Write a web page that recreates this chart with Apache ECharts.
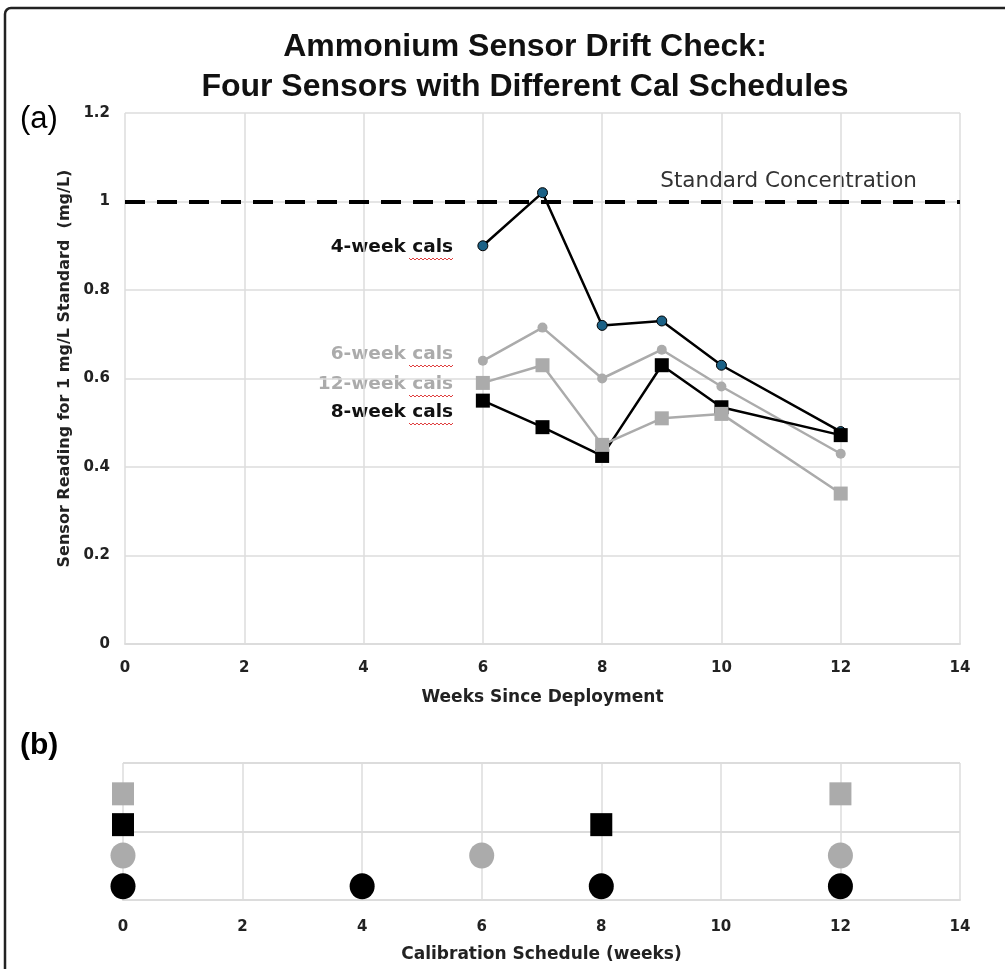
<!DOCTYPE html>
<html>
<head>
<meta charset="utf-8">
<script src="https://cdn.jsdelivr.net/npm/echarts@6/dist/echarts.min.js"></script>
<style>
html,body{margin:0;padding:0;background:#fff;}
#chart{width:1005px;height:969px;}
</style>
</head>
<body>
<div id="chart"></div>
<script>
// ---- Data ----
const weeks = [6, 7, 8, 9, 10, 12];
const fourWeek = [0.90, 1.02, 0.72, 0.73, 0.63, 0.48];
const sixWeek = [0.64, 0.715, 0.60, 0.665, 0.582, 0.43];
const eightWeek = [0.55, 0.49, 0.425, 0.63, 0.535, 0.472];
const twelveWeek = [0.59, 0.63, 0.45, 0.51, 0.52, 0.34];
const standardConc = 1.0;

const cal4 = [0, 4, 8, 12];
const cal6 = [0, 6, 12];
const cal8 = [0, 8];
const cal12 = [0, 12];
const rowLevels = { w4: 0.2, w6: 0.65, w8: 1.1, w12: 1.55 };

const xTicks = [0, 2, 4, 6, 8, 10, 12, 14];
const yTicks = [0, 0.2, 0.4, 0.6, 0.8, 1, 1.2];

const FONT = '"Liberation Sans", Arial, sans-serif';
const WFONT = '"DejaVu Sans", Verdana, sans-serif';
const GRID_C = '#dcdcdc';
const GRAY = '#ababab';
const BLUE = '#1b6186';

function pairs(xs, ys) { return xs.map((x, i) => [x, ys[i]]); }
function row(xs, level) { return xs.map(x => [x, level]); }

const chart = echarts.init(document.getElementById('chart'), null, { renderer: 'canvas' });

function squiggle(x0, x1, y) {
  const pts = [];
  let up = true;
  for (let x = x0; x <= x1; x += 2) { pts.push([x, up ? y : y + 2]); up = !up; }
  return { type: 'polyline', shape: { points: pts }, style: { stroke: '#e04040', lineWidth: 1, fill: null }, silent: true };
}

const option = {
  backgroundColor: '#fff',
  animation: false,
  title: {
    text: 'Ammonium Sensor Drift Check:\nFour Sensors with Different Cal Schedules',
    left: 520, top: 22, textAlign: 'center',
    textStyle: { fontFamily: FONT, fontWeight: 'bold', fontSize: 32, lineHeight: 40, color: '#111' }
  },
  grid: [
    { left: 125, right: 45, top: 113, height: 531 },
    { left: 123, right: 45, top: 763, height: 137 }
  ],
  xAxis: [
    {
      gridIndex: 0, type: 'value', min: 0, max: 14, interval: 2,
      name: 'Weeks Since Deployment', nameLocation: 'middle', nameGap: 45,
      nameTextStyle: { fontFamily: WFONT, fontWeight: 'bold', fontSize: 17, color: '#222' },
      axisLine: { show: true, lineStyle: { color: GRID_C, width: 2 } },
      axisTick: { show: false },
      axisLabel: { fontFamily: WFONT, fontWeight: 'bold', fontSize: 15, color: '#222', margin: 17 },
      splitLine: { show: true, lineStyle: { color: GRID_C, width: 1.5 } }
    },
    {
      gridIndex: 1, type: 'value', min: 0, max: 14, interval: 2,
      name: 'Calibration Schedule (weeks)', nameLocation: 'middle', nameGap: 46,
      nameTextStyle: { fontFamily: WFONT, fontWeight: 'bold', fontSize: 17, color: '#222' },
      axisLine: { show: true, lineStyle: { color: GRID_C, width: 2 } },
      axisTick: { show: false },
      axisLabel: { fontFamily: WFONT, fontWeight: 'bold', fontSize: 15, color: '#222', margin: 20 },
      splitLine: { show: true, lineStyle: { color: GRID_C, width: 1.5 } }
    }
  ],
  yAxis: [
    {
      gridIndex: 0, type: 'value', min: 0, max: 1.2, interval: 0.2,
      name: 'Sensor Reading for 1 mg/L Standard  (mg/L)', nameLocation: 'middle', nameGap: 52,
      nameTextStyle: { fontFamily: WFONT, fontWeight: 'bold', fontSize: 16, color: '#222', padding: [0, 0, 0, 20] },
      axisLine: { show: false }, axisTick: { show: false },
      axisLabel: { fontFamily: WFONT, fontWeight: 'bold', fontSize: 15, color: '#222', margin: 15,
        formatter: v => String(parseFloat(v.toFixed(1))) },
      splitLine: { show: true, lineStyle: { color: GRID_C, width: 1.5 } }
    },
    {
      gridIndex: 1, type: 'value', min: 0, max: 2, interval: 1,
      axisLine: { show: false }, axisTick: { show: false }, axisLabel: { show: false },
      splitLine: { show: true, lineStyle: { color: GRID_C, width: 2 } }
    }
  ],
  series: [
    {
      name: '4-week cals', type: 'line', xAxisIndex: 0, yAxisIndex: 0,
      data: pairs(weeks, fourWeek), symbol: 'circle', symbolSize: 10,
      lineStyle: { color: '#000', width: 2.5 },
      itemStyle: { color: BLUE, borderColor: '#000', borderWidth: 1 },
      z: 3,
      markLine: {
        silent: true, symbol: 'none', label: { show: false },
        lineStyle: { color: '#000', width: 4, type: [20, 12] },
        data: [{ yAxis: standardConc }]
      }
    },
    {
      name: '8-week cals', type: 'line', xAxisIndex: 0, yAxisIndex: 0,
      data: pairs(weeks, eightWeek), symbol: 'rect', symbolSize: 14,
      lineStyle: { color: '#000', width: 2.5 },
      itemStyle: { color: '#000' }, z: 4
    },
    {
      name: '6-week cals', type: 'line', xAxisIndex: 0, yAxisIndex: 0,
      data: pairs(weeks, sixWeek), symbol: 'circle', symbolSize: 10,
      lineStyle: { color: GRAY, width: 2.5 },
      itemStyle: { color: GRAY }, z: 2
    },
    {
      name: '12-week cals', type: 'line', xAxisIndex: 0, yAxisIndex: 0,
      data: pairs(weeks, twelveWeek), symbol: 'rect', symbolSize: 14,
      lineStyle: { color: GRAY, width: 2.5 },
      itemStyle: { color: GRAY }, z: 5
    },
    {
      name: '4-week schedule', type: 'scatter', xAxisIndex: 1, yAxisIndex: 1,
      data: row(cal4, rowLevels.w4), symbol: 'circle', symbolSize: [25, 26],
      itemStyle: { color: '#000', opacity: 1 }
    },
    {
      name: '6-week schedule', type: 'scatter', xAxisIndex: 1, yAxisIndex: 1,
      data: row(cal6, rowLevels.w6), symbol: 'circle', symbolSize: [25, 26],
      itemStyle: { color: GRAY, opacity: 1 }
    },
    {
      name: '8-week schedule', type: 'scatter', xAxisIndex: 1, yAxisIndex: 1,
      data: row(cal8, rowLevels.w8), symbol: 'rect', symbolSize: [22, 23],
      itemStyle: { color: '#000', opacity: 1 }
    },
    {
      name: '12-week schedule', type: 'scatter', xAxisIndex: 1, yAxisIndex: 1,
      data: row(cal12, rowLevels.w12), symbol: 'rect', symbolSize: [22, 23],
      itemStyle: { color: GRAY, opacity: 1 }
    }
  ],
  graphic: [
    { type: 'rect', shape: { x: 5, y: 8, width: 1040, height: 1000, r: 6 },
      style: { fill: null, stroke: '#222', lineWidth: 2.5 }, silent: true, z: 100 },
    { type: 'text', left: 20, top: 104, style: { text: '(a)', fontFamily: FONT, fontSize: 31, fill: '#000' } },
    { type: 'text', left: 20, top: 731, style: { text: '(b)', fontFamily: FONT, fontWeight: 'bold', fontSize: 30, fill: '#000' } },
    { type: 'text', x: 917, y: 181, style: { text: 'Standard Concentration', fontFamily: WFONT, fontSize: 21.5, fill: '#333', align: 'right', verticalAlign: 'middle' } },
    { type: 'text', x: 453, y: 247, style: { text: '4-week cals', fontFamily: WFONT, fontWeight: 'bold', fontSize: 18.5, fill: '#111', align: 'right', verticalAlign: 'middle' } },
    { type: 'text', x: 453, y: 354, style: { text: '6-week cals', fontFamily: WFONT, fontWeight: 'bold', fontSize: 18.5, fill: GRAY, align: 'right', verticalAlign: 'middle' } },
    { type: 'text', x: 453, y: 384, style: { text: '12-week cals', fontFamily: WFONT, fontWeight: 'bold', fontSize: 18.5, fill: GRAY, align: 'right', verticalAlign: 'middle' } },
    { type: 'text', x: 453, y: 412, style: { text: '8-week cals', fontFamily: WFONT, fontWeight: 'bold', fontSize: 18.5, fill: '#111', align: 'right', verticalAlign: 'middle' } },
    squiggle(409, 453, 258),
    squiggle(409, 453, 365),
    squiggle(409, 453, 395),
    squiggle(409, 453, 423)
  ]
};
chart.setOption(option);
</script>
</body>
</html>
